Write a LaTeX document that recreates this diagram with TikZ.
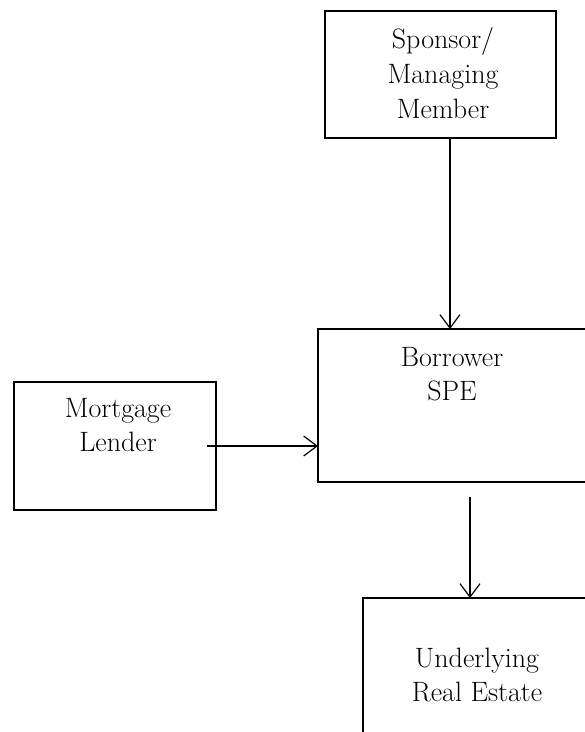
\documentclass[tikz,border=0pt]{standalone}
\usetikzlibrary{arrows.meta}
\tikzset{
  box/.style={draw, line width=0.9pt, inner sep=0pt, outer sep=0pt},
  boxtext/.style={align=center, inner sep=0pt, font=\fontsize{21}{26}\selectfont},
  arr/.style={line width=0.9pt, -{Straight Barb[length=10pt,width=15pt,line width=0.9pt]}}
}
\begin{document}
\begin{tikzpicture}[x=0.75pt, y=-0.75pt]
\useasboundingbox (0,0) rectangle (585,732);
\clip (0,0) rectangle (585,732);
\begin{scope}
  \node[box, minimum width=173.25pt, minimum height=95.25pt] (sponsor) at (440.5,74.5) {};
  \node[box, minimum width=204pt, minimum height=114.75pt] (borrower) at (454,405.5) {};
  \node[box, minimum width=151.5pt, minimum height=96pt] (lender) at (115,446) {};
  \node[box, minimum width=177.75pt, minimum height=121.5pt] (estate) at (481.5,679) {};
\end{scope}
\begin{scope}[every node/.style={boxtext}]
  \node (sponsortxt) at (443,73) {Sponsor/\\Managing\\Member};
  \node (borrowertxt) at (452,374) {Borrower\\SPE};
  \node (lendertxt) at (118,425) {Mortgage\\Lender};
  \node (estatetxt) at (477,675) {Underlying\\Real Estate};
\end{scope}
\coordinate (drop) at ([xshift=12pt,yshift=-11.25pt]borrower.south);
\draw[arr] ([xshift=7.1pt]sponsor.south) -- ([xshift=7.1pt]sponsor.south |- borrower.north);
\draw[arr] ([xshift=-6.75pt]lender.east) -- (lender.east -| borrower.west);
\draw[arr] (drop) -- (drop |- estate.north);
\end{tikzpicture}
\end{document}
